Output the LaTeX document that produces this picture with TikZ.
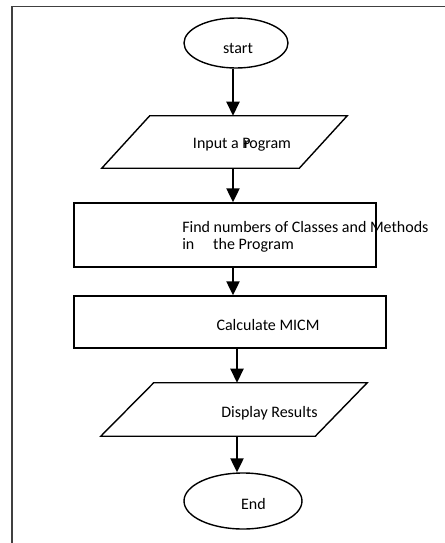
\documentclass[tikz,border=0pt]{standalone}
\usepackage{fontspec}
\setmainfont{Carlito}
\usetikzlibrary{arrows.meta,shapes.geometric}

\tikzset{
  outline/.style={draw=black, line width=1.05pt},
  termbox/.style={outline, ellipse, inner sep=0pt},
  procbox/.style={outline, rectangle, inner sep=0pt},
  iobox/.style={rectangle, inner sep=0pt},
  flow/.style={line width=1.7pt, -{Triangle[length=10.5pt,width=9.75pt]}},
  caption/.style={inner sep=0pt, font=\fontsize{12pt}{14pt}\selectfont},
  frameline/.style={draw=black!75, line width=1.1pt}
}

\begin{document}
\begin{tikzpicture}[x=0.75pt, y=-0.75pt]
  \useasboundingbox (0,0) rectangle (445,543);
  \fill[white] (0,0) rectangle (445,543);

  % page frame (top and left edges)
  \draw[frameline] (445,6.5) -- (12,6.5) -- (12,543);

  % arrow columns
  \coordinate (colA) at (233,0);
  \coordinate (colB) at (237,0);

  % terminals and process boxes
  \node[termbox, minimum width=78pt, minimum height=37.5pt] (start) at (236,43) {};
  \node[iobox, minimum width=183.75pt, minimum height=39pt] (inp) at (224.5,142) {};
  \node[procbox, minimum width=226.5pt, minimum height=48pt] (find) at (225,235) {};
  \node[procbox, minimum width=234pt, minimum height=39pt] (calc) at (230,322) {};
  \node[iobox, minimum width=199.5pt, minimum height=39.75pt] (disp) at (234,409.5) {};
  \node[termbox, minimum width=88.5pt, minimum height=42pt] (stop) at (243,501) {};

  % input / output parallelograms
  \draw[outline] ([xshift=36pt]inp.north west) -- (inp.north east)
    -- ([xshift=-36pt]inp.south east) -- (inp.south west) -- cycle;
  \draw[outline] ([xshift=39.75pt]disp.north west) -- (disp.north east)
    -- ([xshift=-39pt]disp.south east) -- (disp.south west) -- cycle;

  % labels
  \node[caption, anchor=base] (tstart) at (238,53) {start};
  \node[caption, anchor=base] (tinp) at (242,148) {Input a P\kern-0.42em rogram};
  \node[caption, anchor=base west] (tfind1) at (182,232) {Find numbers of Classes and Methods};
  \node[caption, anchor=base west] (tfind2) at (182,249) {\makebox[23.25pt][l]{in}the Program};
  \node[caption, anchor=base] (tcalc) at (268,330) {Calculate MICM};
  \node[caption, anchor=base] (tdisp) at (269.5,417) {Display Results};
  \node[caption, anchor=base] (tstop) at (253.5,509) {End};

  % connectors
  \draw[flow] (start.south -| colA) -- (inp.north -| colA);
  \draw[flow] (inp.south -| colA) -- (find.north -| colA);
  \draw[flow] (find.south -| colA) -- (calc.north -| colA);
  \draw[flow] (calc.south -| colB) -- (disp.north -| colB);
  \draw[flow] (disp.south -| colB) -- (stop.north -| colB);
\end{tikzpicture}
\end{document}
